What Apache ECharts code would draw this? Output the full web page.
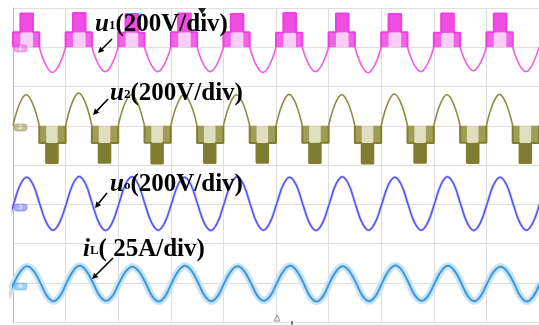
<!DOCTYPE html>
<html>
<head>
<meta charset="utf-8">
<title>u1 / u2 / uo / iL waveforms</title>
<script src="https://cdn.jsdelivr.net/npm/echarts@6/dist/echarts.min.js"></script>
<style>
  html, body { margin: 0; padding: 0; background: #fff; }
  #main { width: 539px; height: 325px; }
</style>
</head>
<body>
<div id="main"></div>
<script>
// time axis in divisions, one fundamental period per division
// all amplitudes in divisions, relative to the channel's own zero line
const periods = [0, 1, 2, 3, 4, 5, 6, 7, 8, 9];

// shape of one cycle read at 1/8-period steps (fraction of the peak)
const cycleShape = [0, 0.71, 1, 0.71, 0, -0.71, -1, -0.71];

// u1: stepped positive half, smooth negative half
const u1Top = [0.86, 0.87, 0.85, 0.86, 0.85, 0.87, 0.86, 0.85, 0.86, 0.86];
const u1Mid = [0.38, 0.38, 0.37, 0.38, 0.38, 0.37, 0.38, 0.38, 0.37, 0.38];
const u1Low = [-0.64, -0.62, -0.62, -0.62, -0.64, -0.62, -0.65, -0.62, -0.60, -0.62];
const u1Edges = [0.14, 0.38, 0.5]; // step times inside a period

// u2: smooth positive half, stepped negative half
const u2High = [0.79, 0.83, 0.79, 0.79, 0.79, 0.80, 0.79, 0.81, 0.79, 0.80];
const u2Mid = [-0.44, -0.44, -0.43, -0.44, -0.44, -0.43, -0.44, -0.44, -0.43, -0.44];
const u2Low = [-0.95, -0.94, -0.96, -0.95, -0.94, -0.95, -0.96, -0.94, -0.95, -0.95];
const u2Edges = [0.5, 0.63, 0.85];

// uo and iL: sinusoids
const uoHigh = [0.69, 0.71, 0.70, 0.69, 0.70, 0.69, 0.70, 0.69, 0.70, 0.69];
const uoLow = [-0.66, -0.67, -0.66, -0.67, -0.66, -0.67, -0.66, -0.66, -0.67, -0.66];
const uoShift = 0.01;
const iLHigh = [0.42, 0.43, 0.41, 0.43, 0.42, 0.43, 0.42, 0.44, 0.43, 0.41];
const iLLow = [-0.47, -0.46, -0.48, -0.47, -0.46, -0.48, -0.47, -0.46, -0.47, -0.48];
const iLShift = 0.02;

const step = 1 / cycleShape.length;
function scaled(f, hi, lo) {
  return f > 0 ? f * hi : f < 0 ? -f * lo : 0;
}
function sineWave(high, low, shift) {
  const pts = [];
  // tail of the cycle before the first division so the trace starts at the edge
  [6, 7].forEach(j => pts.push([shift - 1 + j * step, scaled(cycleShape[j], high[9], low[9])]));
  periods.forEach((k, i) => {
    cycleShape.forEach((f, j) => pts.push([k + shift + j * step, scaled(f, high[i], low[i])]));
  });
  pts.push([10 + shift, 0]);
  return pts;
}

// half sine lobes, one per period, starting at 'start' inside the period
function halfLobes(peak, start) {
  const pts = [];
  periods.forEach((k, i) => {
    for (let j = 0; j <= 4; j++) {
      pts.push([k + start + j * step, Math.abs(cycleShape[j]) * peak[i]]);
    }
    pts.push('-');
  });
  return pts;
}

// stepped blocks
function stepOutline(mid, top, start, e1, e2, end) {
  const pts = [];
  periods.forEach((k, i) => {
    pts.push([k + start, 0], [k + start, mid[i]], [k + e1, mid[i]], [k + e1, top[i]],
      [k + e2, top[i]], [k + e2, mid[i]], [k + end, mid[i]], [k + end, 0], '-');
  });
  return pts;
}
function stepShoulders(mid, start, e1, e2, end) {
  const pts = [];
  periods.forEach((k, i) => {
    pts.push([k + start, 0], [k + start, mid[i]], [k + e1, mid[i]], [k + e1, 0], '-',
      [k + e2, 0], [k + e2, mid[i]], [k + end, mid[i]], [k + end, 0], '-');
  });
  return pts;
}
function stepCore(mid, top, e1, e2) {
  const pts = [];
  periods.forEach((k, i) => {
    pts.push([k + e1, mid[i]], [k + e1, top[i]], [k + e2, top[i]], [k + e2, mid[i]], '-');
  });
  return pts;
}
const avg = a => a.reduce((s, v) => s + v, 0) / a.length;

const chart = echarts.init(document.getElementById('main'));

const serif = 'Liberation Serif, Times New Roman, serif';
function label(x, y, sym, sub, rest) {
  return {
    type: 'text', x: x, y: y, z: 100,
    style: {
      text: '{u|' + sym + '}{s|' + sub + '}{n|' + rest + '}',
      rich: {
        u: { fontFamily: serif, fontStyle: 'italic', fontWeight: 'bold', fontSize: 25, fill: '#000' },
        s: { fontFamily: serif, fontWeight: 'bold', fontSize: 13, fill: '#000', verticalAlign: 'bottom', padding: [0, 0, 5, 0] },
        n: { fontFamily: serif, fontWeight: 'bold', fontSize: 25, fill: '#000' }
      }
    }
  };
}
function arrow(x1, y1, x2, y2) {
  const dx = x2 - x1, dy = y2 - y1, len = Math.sqrt(dx * dx + dy * dy);
  const ux = dx / len, uy = dy / len, h = 6, w = 3;
  const bx = x2 - ux * h, by = y2 - uy * h;
  return [
    { type: 'line', z: 100, shape: { x1: x1, y1: y1, x2: bx, y2: by }, style: { stroke: '#000', lineWidth: 1.6 } },
    { type: 'polygon', z: 100, shape: { points: [[x2, y2], [bx - uy * w, by + ux * w], [bx + uy * w, by - ux * w]] }, style: { fill: '#000' } }
  ];
}
function chip(y, color, txt) {
  return [
    { type: 'rect', z: 90, shape: { x: 14, y: y - 3, width: 13, height: 7, r: 3 }, style: { fill: color, stroke: color, opacity: 0.45 } },
    { type: 'text', z: 91, x: 20.5, y: y + 0.5, style: { text: txt, fontSize: 6, fill: '#fff', align: 'center', verticalAlign: 'middle', fontFamily: 'DejaVu Sans' } }
  ];
}

const option = {
  animation: false,
  backgroundColor: '#fff',
  grid: { left: 13, right: 0, top: 8, bottom: 3 },
  xAxis: {
    type: 'value', min: 0, max: 10, interval: 1,
    axisLine: { show: false }, axisTick: { show: false }, axisLabel: { show: false },
    splitLine: { show: true, lineStyle: { color: '#dedede', width: 1 } }
  },
  yAxis: [
    {
      type: 'value', min: 0, max: 8, interval: 1,
      axisLine: { show: true, lineStyle: { color: '#b8b8b8' } },
      axisTick: { show: false }, axisLabel: { show: false },
      splitLine: { show: true, lineStyle: { color: '#dedede', width: 1 } }
    },
    { type: 'value', min: -7, max: 1, show: false },
    { type: 'value', min: -5, max: 3, show: false },
    { type: 'value', min: -3, max: 5, show: false },
    { type: 'value', min: -1, max: 7, show: false }
  ],
  series: [
    // u1
    {
      type: 'line', yAxisIndex: 1, showSymbol: false, smooth: 0.4,
      data: halfLobes(u1Low, 0.5),
      lineStyle: { color: '#f25ce6', width: 1.6 }
    },
    {
      type: 'line', yAxisIndex: 1, showSymbol: false,
      data: stepOutline(u1Mid, u1Top, 0, u1Edges[0], u1Edges[1], u1Edges[2]),
      lineStyle: { color: '#ee3fe0', width: 2 },
      areaStyle: { color: '#f5a6ee', opacity: 0.55 }
    },
    {
      type: 'line', yAxisIndex: 1, showSymbol: false,
      data: stepShoulders(u1Mid, 0, u1Edges[0], u1Edges[1], u1Edges[2]),
      lineStyle: { width: 0 },
      areaStyle: { color: '#ee3fe0', opacity: 0.75 }
    },
    {
      type: 'line', yAxisIndex: 1, showSymbol: false,
      data: stepCore(u1Mid, u1Top, u1Edges[0], u1Edges[1]),
      lineStyle: { width: 0 },
      areaStyle: { color: '#ee3fe0', opacity: 0.9, origin: avg(u1Mid) }
    },
    // u2
    {
      type: 'line', yAxisIndex: 2, showSymbol: false, smooth: 0.4,
      data: halfLobes(u2High, 0),
      lineStyle: { color: '#8e8c3e', width: 1.6 }
    },
    {
      type: 'line', yAxisIndex: 2, showSymbol: false,
      data: stepOutline(u2Mid, u2Low, u2Edges[0], u2Edges[1], u2Edges[2], 1),
      lineStyle: { color: '#827f2c', width: 2 },
      areaStyle: { color: '#c4c28a', opacity: 0.55 }
    },
    {
      type: 'line', yAxisIndex: 2, showSymbol: false,
      data: stepShoulders(u2Mid, u2Edges[0], u2Edges[1], u2Edges[2], 1),
      lineStyle: { width: 0 },
      areaStyle: { color: '#8a8834', opacity: 0.75 }
    },
    {
      type: 'line', yAxisIndex: 2, showSymbol: false,
      data: stepCore(u2Mid, u2Low, u2Edges[1], u2Edges[2]),
      lineStyle: { width: 0 },
      areaStyle: { color: '#78762a', opacity: 0.95, origin: avg(u2Mid) }
    },
    // uo
    {
      type: 'line', yAxisIndex: 3, showSymbol: false, smooth: 0.4,
      data: sineWave(uoHigh, uoLow, uoShift),
      lineStyle: { color: '#d2d2fc', width: 3 }
    },
    {
      type: 'line', yAxisIndex: 3, showSymbol: false, smooth: 0.4,
      data: sineWave(uoHigh, uoLow, uoShift),
      lineStyle: { color: '#5252f2', width: 1.5 }
    },
    // iL
    {
      type: 'line', yAxisIndex: 4, showSymbol: false, smooth: 0.4,
      data: sineWave(iLHigh, iLLow, iLShift),
      lineStyle: { color: '#c6e3f8', width: 7 }
    },
    {
      type: 'line', yAxisIndex: 4, showSymbol: false, smooth: 0.4,
      data: sineWave(iLHigh, iLLow, iLShift),
      lineStyle: { color: '#3f98d8', width: 2 }
    }
  ],
  graphic: [
    label(95, 12, 'u', '1', '(200V/div)'),
    label(110, 81, 'u', '2', '(200V/div)'),
    label(110, 172, 'u', 'o', '(200V/div)'),
    label(83, 237, 'i', 'L', '( 25A/div)'),
    ...arrow(112, 39, 98, 53),
    ...arrow(108, 99, 93, 115),
    ...arrow(107, 193, 95, 208),
    ...arrow(113, 258, 92, 279),
    ...chip(48, '#ee3fe0', '1'),
    ...chip(127, '#827f2c', '2'),
    ...chip(207, '#4f4ff2', '3'),
    ...chip(286, '#3f98d8', '4'),
    { type: 'polygon', z: 100, shape: { points: [[198, 8], [206, 8], [202, 14]] }, style: { fill: '#222' } },
    { type: 'polygon', z: 100, shape: { points: [[274, 321], [280, 321], [277, 315]] }, style: { fill: 'none', stroke: '#999', lineWidth: 1 } },
    { type: 'line', z: 100, shape: { x1: 292, y1: 321, x2: 292, y2: 325 }, style: { stroke: '#000', lineWidth: 1 } }
  ]
};

chart.setOption(option);
</script>
</body>
</html>
